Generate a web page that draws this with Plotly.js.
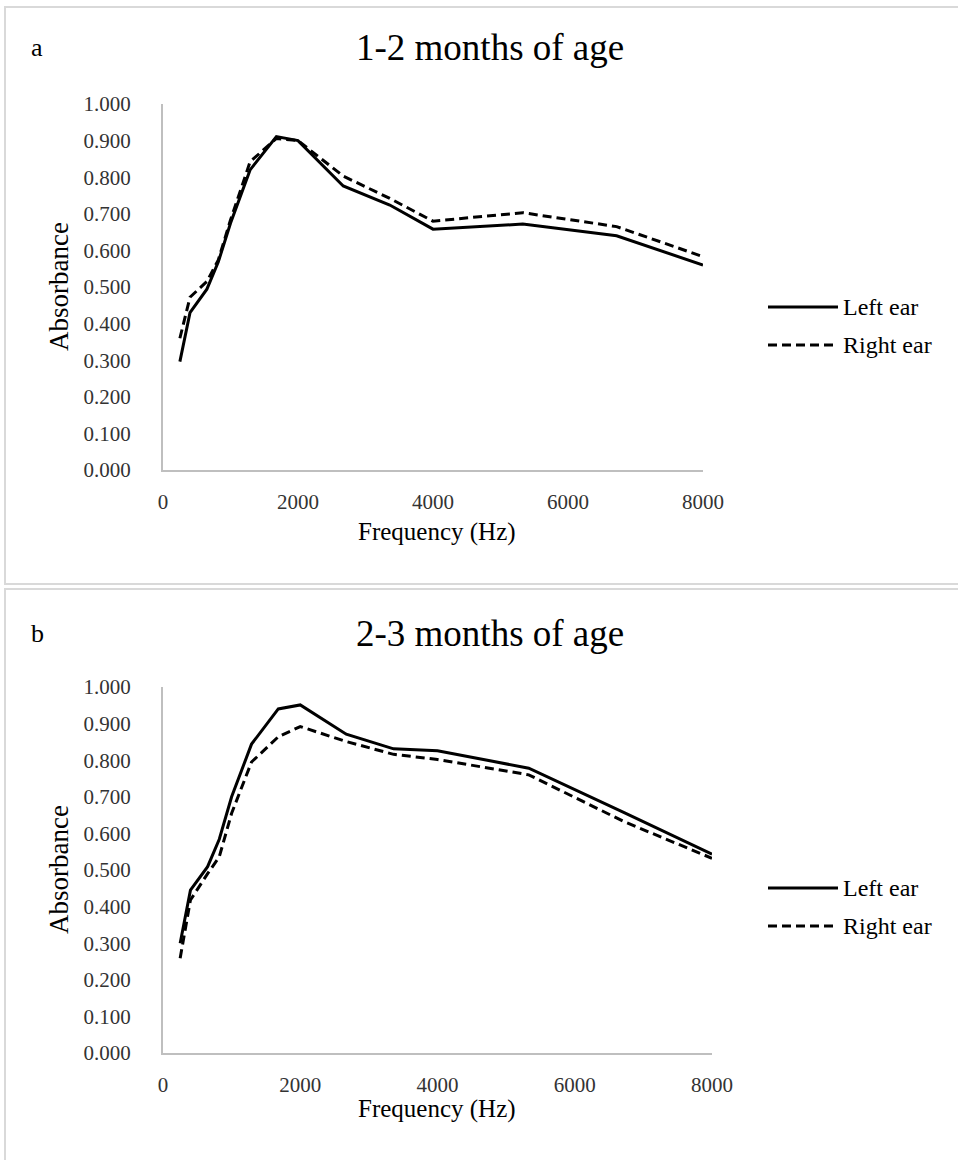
<!DOCTYPE html>
<html><head><meta charset="utf-8">
<script src="https://cdn.plot.ly/plotly-3.0.1.min.js"></script>
<style>html,body{margin:0;padding:0;background:#fff}</style>
</head><body><div id="chart" style="width:958px;height:1160px"></div>
<script>
// Frequencies (Hz)
const freqs = [250, 400, 650, 820, 1000, 1290, 1680, 2000, 2670, 3360, 4000, 5330, 6720, 8000];
// Panel a: 1-2 months of age
const leftEarA  = [0.296, 0.430, 0.494, 0.569, 0.674, 0.820, 0.911, 0.900, 0.776, 0.724, 0.658, 0.672, 0.640, 0.560];
const rightEarA = [0.360, 0.472, 0.515, 0.574, 0.683, 0.842, 0.906, 0.900, 0.803, 0.742, 0.680, 0.703, 0.665, 0.583];
// Panel b: 2-3 months of age
const leftEarB  = [0.300, 0.445, 0.509, 0.584, 0.700, 0.844, 0.940, 0.951, 0.871, 0.831, 0.826, 0.778, 0.657, 0.543];
const rightEarB = [0.259, 0.418, 0.490, 0.536, 0.655, 0.795, 0.864, 0.892, 0.851, 0.816, 0.802, 0.760, 0.632, 0.532];
const panelTitles = ["1-2 months of age", "2-3 months of age"];
const panelLetters = ["a", "b"];
const seriesNames = ["Left ear", "Right ear"];
const yTickVals = [0, 0.1, 0.2, 0.3, 0.4, 0.5, 0.6, 0.7, 0.8, 0.9, 1.0];
const xTickVals = [0, 2000, 4000, 6000, 8000];

const W = 958, H = 1160;
const px = x => x / W;
const py = y => 1 - y / H;
const FONT = "Liberation Serif, Times New Roman, serif";
const DASH = "9px,5px";

const traces = [
  {x: freqs, y: leftEarA, xaxis: 'x', yaxis: 'y', mode: 'lines', name: seriesNames[0], line: {color: '#000', width: 3}},
  {x: freqs, y: rightEarA, xaxis: 'x', yaxis: 'y', mode: 'lines', name: seriesNames[1], line: {color: '#000', width: 3, dash: DASH}},
  {x: freqs, y: leftEarB, xaxis: 'x2', yaxis: 'y2', mode: 'lines', name: seriesNames[0], line: {color: '#000', width: 3}},
  {x: freqs, y: rightEarB, xaxis: 'x2', yaxis: 'y2', mode: 'lines', name: seriesNames[1], line: {color: '#000', width: 3, dash: DASH}}
];

function xAxis(domain, anchor) {
  return {domain: domain, anchor: anchor, range: [0, 8000], tickvals: xTickVals, ticktext: xTickVals.map(String),
    showgrid: false, zeroline: false, showline: true, linecolor: '#bfbfbf', linewidth: 2, ticks: '',
    ticklabelstandoff: 12, tickfont: {family: FONT, size: 21, color: '#333'}, fixedrange: true};
}
function yAxis(domain, anchor) {
  return {domain: domain, anchor: anchor, range: [0, 1], tickvals: yTickVals, tickformat: '.3f',
    showgrid: false, zeroline: false, showline: true, linecolor: '#bfbfbf', linewidth: 2, ticks: '',
    ticklabelstandoff: 26, tickfont: {family: FONT, size: 21, color: '#333'}, fixedrange: true};
}

const panels = [
  {top: 7, bottom: 584, titleY: 47, plotTop: 104, plotBot: 470, xRight: 703, freqY: 532, legY: [307, 345]},
  {top: 589, bottom: 1164, titleY: 633, plotTop: 687, plotBot: 1053, xRight: 712, freqY: 1109, legY: [888, 926]}
];

const shapes = [], annotations = [];
panels.forEach((p, i) => {
  shapes.push({type: 'rect', xref: 'paper', yref: 'paper', x0: px(5), x1: px(965), y0: py(p.bottom), y1: py(p.top),
    line: {color: '#d9d9d9', width: 2}, fillcolor: 'rgba(0,0,0,0)', layer: 'below'});
  annotations.push({xref: 'paper', yref: 'paper', x: px(37), y: py(p.titleY), text: panelLetters[i], showarrow: false,
    xanchor: 'center', yanchor: 'middle', font: {family: FONT, size: 26, color: '#000'}});
  annotations.push({xref: 'paper', yref: 'paper', x: px(490), y: py(p.titleY), text: panelTitles[i], showarrow: false,
    xanchor: 'center', yanchor: 'middle', font: {family: FONT, size: 37, color: '#000'}});
  annotations.push({xref: 'paper', yref: 'paper', x: px(59), y: py((p.plotTop + p.plotBot) / 2), text: 'Absorbance', showarrow: false,
    textangle: -90, xanchor: 'center', yanchor: 'middle', font: {family: FONT, size: 27, color: '#000'}});
  annotations.push({xref: 'paper', yref: 'paper', x: px(437), y: py(p.freqY), text: 'Frequency (Hz)', showarrow: false,
    xanchor: 'center', yanchor: 'middle', font: {family: FONT, size: 25, color: '#000'}});
  seriesNames.forEach((nm, k) => {
    shapes.push({type: 'line', xref: 'paper', yref: 'paper', x0: px(768), x1: px(838), y0: py(p.legY[k]), y1: py(p.legY[k]),
      line: {color: '#000', width: 3, dash: k === 0 ? 'solid' : DASH}});
    annotations.push({xref: 'paper', yref: 'paper', x: px(841), y: py(p.legY[k]), text: nm, showarrow: false,
      xanchor: 'left', yanchor: 'middle', font: {family: FONT, size: 24, color: '#000'}});
  });
});

const layout = {
  width: W, height: H, margin: {l: 0, r: 0, t: 0, b: 0}, showlegend: false,
  paper_bgcolor: '#fff', plot_bgcolor: '#fff',
  xaxis: xAxis([px(163), px(703)], 'y'),
  yaxis: yAxis([py(470), py(104)], 'x'),
  xaxis2: xAxis([px(163), px(712)], 'y2'),
  yaxis2: yAxis([py(1053), py(687)], 'x2'),
  shapes: shapes, annotations: annotations
};
Plotly.newPlot('chart', traces, layout, {displayModeBar: false, staticPlot: true});
</script>
</body></html>
